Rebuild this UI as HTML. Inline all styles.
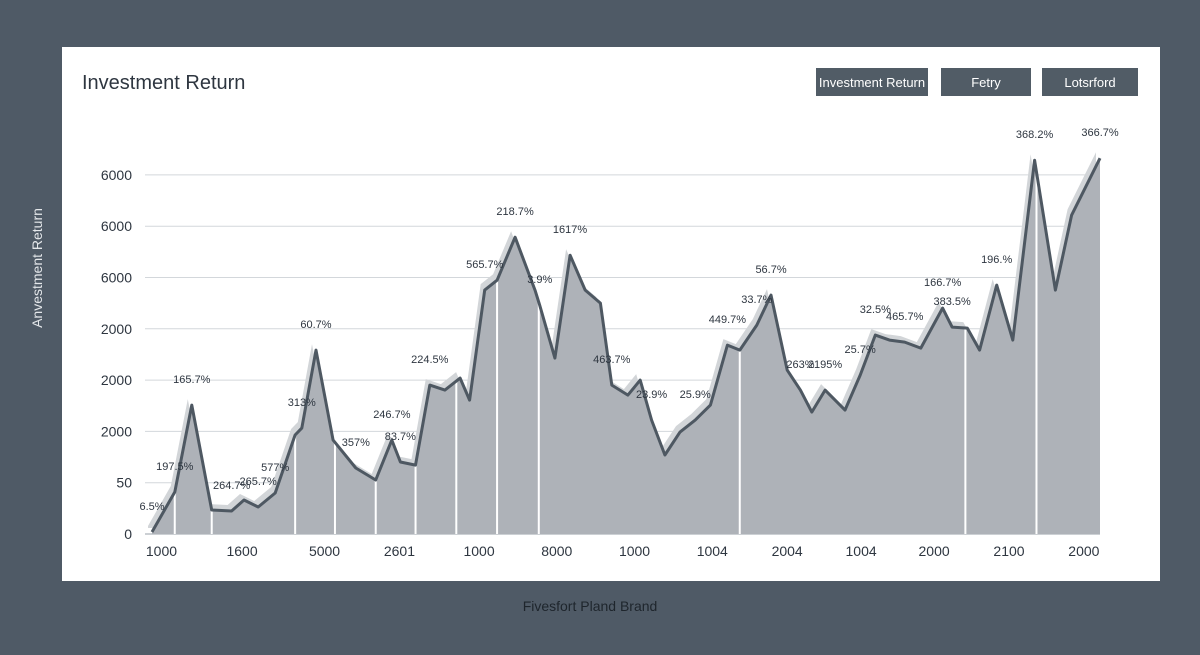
<!DOCTYPE html>
<html><head><meta charset="utf-8"><style>
html,body{margin:0;padding:0;width:1200px;height:655px;overflow:hidden;background:#4f5a66;font-family:"Liberation Sans",sans-serif;}
</style></head><body>
<svg id="chart" width="1200" height="655" xmlns="http://www.w3.org/2000/svg">
<defs><clipPath id="areaClip"><path id="clipPathShape" d=""/></clipPath></defs>
<rect x="0" y="0" width="1200" height="655" fill="#4f5a66"/>
<rect x="62" y="47" width="1098" height="534" fill="#ffffff"/>
<text x="82" y="89" font-size="20" fill="#2e3640">Investment Return</text>
<g><rect x="816" y="68" width="112" height="28" fill="#515c66"/><text x="872" y="87" font-size="13" fill="#fff" text-anchor="middle">Investment Return</text></g>
<g><rect x="941" y="68" width="90" height="28" fill="#515c66"/><text x="986" y="87" font-size="13" fill="#fff" text-anchor="middle">Fetry</text></g>
<g><rect x="1042" y="68" width="96" height="28" fill="#515c66"/><text x="1090" y="87" font-size="13" fill="#fff" text-anchor="middle">Lotsrford</text></g>
<text transform="translate(42,268) rotate(-90)" font-size="14" fill="#e4e7ea" text-anchor="middle">Anvestment Return</text>
<text x="590" y="611" font-size="14" fill="#1e252c" text-anchor="middle">Fivesfort Pland Brand</text>
<g id="grid"></g><g id="areas"></g><g id="labels"></g>
</svg>
<script>
const yTickValues=[0,1000,2000,3000,4000,5000,6000,7000];
const yTickLabels=["0","50","2000","2000","2000","6000","6000","6000"];
const xTickPeriods=[1,9.5,18.2,26.1,34.5,42.7,50.9,59.1,67,74.8,82.5,90.4,98.3];
const xTickLabels=["1000","1600","5000","2601","1000","8000","1000","1004","2004","1004","2000","2100","2000"];
const periods=[0,2.4,4.2,6.3,8.4,9.7,11.2,13.0,15.1,15.8,17.3,19.1,21.5,23.6,25.3,26.2,27.8,29.3,30.9,32.5,33.5,35.1,36.4,38.3,40.4,40.9,42.5,44.1,45.7,47.3,48.5,50.2,51.5,52.7,54.1,55.7,57.3,58.9,60.7,62.0,63.8,65.3,67.0,68.4,69.6,71.0,73.1,74.7,76.3,77.8,79.4,81.1,83.4,84.4,86.0,87.3,89.1,90.8,93.1,95.3,97.0,100];
const returns=[39,818,2513,468,448,662,526,799,1929,2065,3585,1831,1286,1052,1831,1403,1344,2903,2805,3039,2611,4754,4948,5786,4754,4461,3429,5435,4754,4500,2903,2708,3000,2221,1539,1987,2221,2513,3682,3585,4072,4656,3195,2805,2377,2805,2416,3098,3877,3779,3741,3624,4403,4033,4013,3585,4851,3779,7286,4754,6215,7325];
const labelIndex=[0,1,2,4,6,7,9,10,12,14,15,17,21,23,25,27,30,33,36,38,40,41,43,45,47,48,50,52,53,56,58,61];
const labelText=["6.5%","197.5%","165.7%","264.7%","265.7%","577%","313%","60.7%","357%","246.7%","83.7%","224.5%","565.7%","218.7%","3.9%","1617%","463.7%","23.9%","25.9%","449.7%","33.7%","56.7%","263%","2195%","25.7%","32.5%","465.7%","166.7%","383.5%","196.%","368.2%","366.7%"];
const dividerPeriods=[2.4,6.3,15.1,19.3,23.6,27.8,32.1,36.4,40.8,62.0,85.8,93.3];
const NS="http://www.w3.org/2000/svg";
const X0=152,X1=1100,Y0=534,PX=51.3;
const xs=p=>X0+(X1-X0)*p/100;
const ys=v=>Y0-v*PX/1000;
function el(tag,attrs,parent){const e=document.createElementNS(NS,tag);for(const k in attrs)e.setAttribute(k,attrs[k]);parent.appendChild(e);return e;}
const grid=document.getElementById('grid'),areas=document.getElementById('areas'),labels=document.getElementById('labels');
yTickValues.forEach((v,i)=>{if(i===0)return;
 const l=el('line',{x1:145,x2:1100,y1:ys(v),y2:ys(v),stroke:'#d3d7db','stroke-width':1},grid);
 
 });
el('line',{x1:145,x2:1100,y1:Y0,y2:Y0,stroke:'#9aa1a8','stroke-width':1},grid);
yTickValues.forEach((v,i)=>{const t=el('text',{x:132,y:ys(v)+5,'font-size':14,fill:'#2e3640','text-anchor':'end'},grid);t.textContent=yTickLabels[i];
 
 });
xTickPeriods.forEach((p,i)=>{const t=el('text',{x:xs(p),y:556,'font-size':14,fill:'#2e3640','text-anchor':'middle'},grid);t.textContent=xTickLabels[i];
 
 });
let line='';periods.forEach((p,i)=>{line+=(i?'L':'M')+xs(p).toFixed(1)+','+ys(returns[i]).toFixed(1);});
const area=line+'L'+xs(periods[periods.length-1])+','+Y0+'L'+xs(periods[0])+','+Y0+'Z';
document.getElementById('clipPathShape').setAttribute('d',area);
const sh=el('path',{d:area,fill:'#d2d5d8',transform:'translate(-4,-6)'},areas);


const ar=el('path',{d:area,fill:'#aeb2b8'},areas);


const dg=el('g',{'clip-path':'url(#areaClip)'},areas);
dividerPeriods.forEach(p=>{const d=el('line',{x1:xs(p),x2:xs(p),y1:Y0,y2:100,stroke:'#ffffff','stroke-width':2},dg);
 
 });
const ln=el('path',{d:line,fill:'none',stroke:'#4e5862','stroke-width':3,'stroke-linejoin':'round'},areas);


labelIndex.forEach((idx,i)=>{const t=el('text',{x:xs(periods[idx]),y:ys(returns[idx])-22,'font-size':11,fill:'#2e3640','text-anchor':'middle'},labels);t.textContent=labelText[i];
 
 });
</script>
</body></html>
